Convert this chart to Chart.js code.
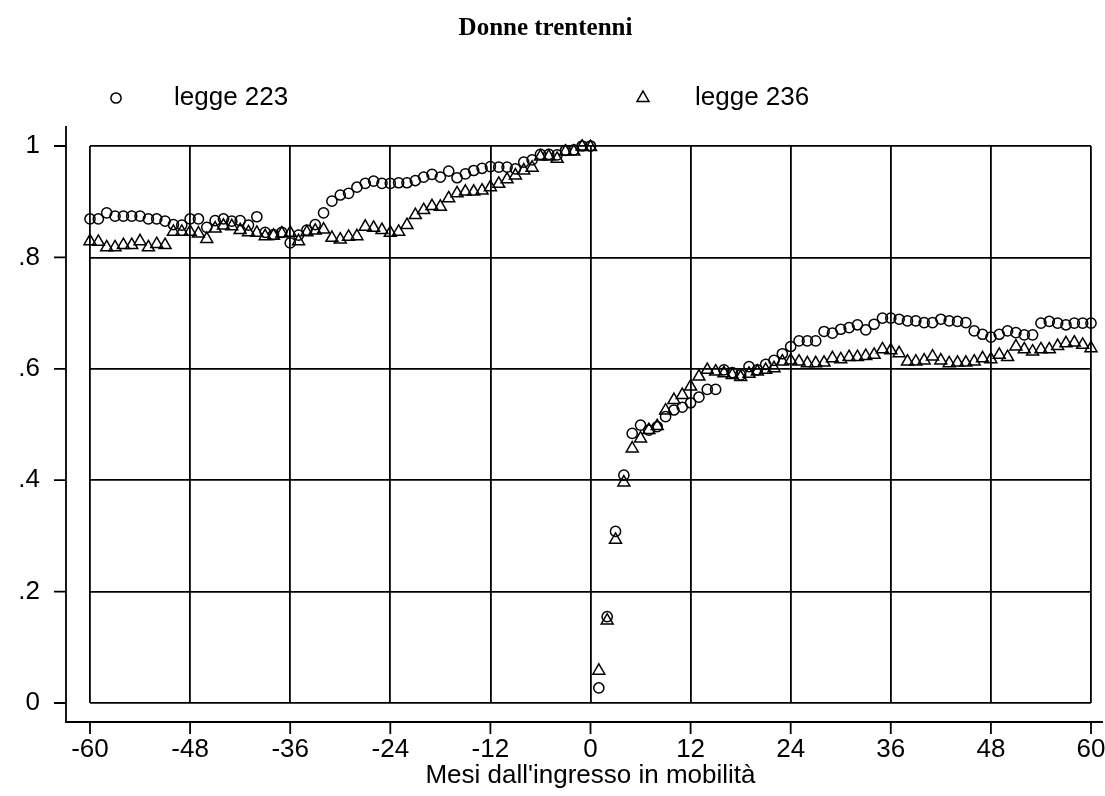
<!DOCTYPE html>
<html>
<head>
<meta charset="utf-8">
<script src="https://cdn.jsdelivr.net/npm/chart.js@4.4.1/dist/chart.umd.min.js"></script>
<style>
  html, body { margin: 0; padding: 0; background: #fff; }
  #wrap { width: 1105px; height: 796px; }
</style>
</head>
<body>
<div id="wrap"><canvas id="chart" width="1105" height="796"></canvas></div>
<script>
// months from entry into mobility (x) and the two survival-like shares (y)
const months = [
  -60,-59,-58,-57,-56,-55,-54,-53,-52,-51,-50,-49,-48,-47,-46,-45,-44,-43,-42,-41,
  -40,-39,-38,-37,-36,-35,-34,-33,-32,-31,-30,-29,-28,-27,-26,-25,-24,-23,-22,-21,
  -20,-19,-18,-17,-16,-15,-14,-13,-12,-11,-10,-9,-8,-7,-6,-5,-4,-3,-2,-1,0,
  1,2,3,4,5,6,7,8,9,10,11,12,13,14,15,16,17,18,19,20,
  21,22,23,24,25,26,27,28,29,30,31,32,33,34,35,36,37,38,39,40,
  41,42,43,44,45,46,47,48,49,50,51,52,53,54,55,56,57,58,59,60
];

const legge223 = [
  .869,.869,.880,.874,.874,.874,.874,.869,.869,.865,
  .859,.858,.869,.869,.854,.866,.869,.865,.866,.858,
  .873,.845,.841,.845,.826,.840,.849,.859,.880,.901,
  .912,.915,.926,.933,.937,.933,.933,.934,.934,.938,
  .944,.949,.944,.955,.943,.950,.956,.960,.963,.962,
  .962,.959,.971,.975,.985,.985,.984,.992,.993,1.0,1.0,
  .027,.155,.308,.409,.484,.499,.490,.496,.514,.526,
  .531,.539,.549,.563,.563,.598,.593,.589,.604,.598,
  .608,.615,.627,.640,.650,.650,.650,.667,.664,.671,
  .674,.679,.670,.680,.691,.691,.689,.686,.686,.683,
  .683,.689,.686,.685,.683,.668,.662,.657,.662,.668,
  .665,.661,.661,.682,.685,.682,.679,.682,.682,.682
];

const legge236 = [
  .829,.828,.818,.818,.822,.822,.829,.818,.824,.822,
  .846,.846,.846,.843,.833,.852,.857,.856,.849,.845,
  .844,.838,.839,.843,.844,.829,.845,.848,.850,.835,
  .832,.837,.838,.855,.853,.849,.844,.846,.858,.876,
  .885,.892,.891,.906,.915,.918,.918,.920,.926,.932,
  .940,.947,.956,.961,.981,.981,.977,.990,.990,.999,.998,
  .058,.148,.293,.396,.457,.475,.490,.497,.525,.544,
  .553,.568,.586,.598,.595,.592,.589,.585,.591,.595,
  .598,.601,.613,.615,.613,.610,.610,.611,.619,.617,
  .621,.621,.623,.625,.635,.633,.628,.613,.613,.615,
  .622,.615,.610,.611,.611,.613,.619,.617,.625,.621,
  .640,.635,.631,.635,.635,.641,.646,.647,.643,.637
];

const seriesNames = ['legge 223', 'legge 236'];
const xTicks = [-60, -48, -36, -24, -12, 0, 12, 24, 36, 48, 60];
const yTicks = [0, 0.2, 0.4, 0.6, 0.8, 1];
const yTickLabels = ['0', '.2', '.4', '.6', '.8', '1'];

const SANS = '"Liberation Sans", Arial, sans-serif';
const TEXT_SIZE = 26;
const CIRCLE_R = 5.1;
const TRIANGLE_R = 6.9;

function toPoints(values) {
  return values.map((v, i) => ({ x: months[i], y: v }));
}

function drawMarker(ctx, style, x, y) {
  ctx.beginPath();
  if (style === 'circle') {
    ctx.arc(x, y, CIRCLE_R, 0, Math.PI * 2);
  } else {
    const r = TRIANGLE_R, s = Math.sin(2 * Math.PI / 3);
    ctx.moveTo(x, y - r);
    ctx.lineTo(x + r * s, y + r / 2);
    ctx.lineTo(x - r * s, y + r / 2);
    ctx.closePath();
  }
  ctx.stroke();
}

// outer axis lines sit a little away from the plot box, ticks point outward;
// the key is drawn above the plot
const axesAndKey = {
  id: 'axesAndKey',
  afterDraw(chart) {
    const { ctx, chartArea: a, scales: { x, y } } = chart;
    const axX = a.left - 24;
    const axY = a.bottom + 19;
    ctx.save();
    ctx.strokeStyle = '#000';
    ctx.lineWidth = 1.8;
    ctx.beginPath();
    ctx.moveTo(axX, a.top - 20);
    ctx.lineTo(axX, axY);
    ctx.lineTo(chart.width - 2, axY);
    yTicks.forEach(v => {
      const py = y.getPixelForValue(v);
      ctx.moveTo(axX - 12, py);
      ctx.lineTo(axX, py);
    });
    xTicks.forEach(v => {
      const px = x.getPixelForValue(v);
      ctx.moveTo(px, axY);
      ctx.lineTo(px, axY + 12);
    });
    ctx.stroke();

    const keyY = 98;
    const keyPos = [{ m: 116, t: 174 }, { m: 643, t: 695 }];
    ctx.lineWidth = 1.5;
    ctx.fillStyle = '#000';
    ctx.font = TEXT_SIZE + 'px ' + SANS;
    ctx.textBaseline = 'middle';
    chart.data.datasets.forEach((ds, i) => {
      drawMarker(ctx, ds.pointStyle, keyPos[i].m, keyY);
      ctx.fillText(ds.label, keyPos[i].t, keyY);
    });
    ctx.restore();
  }
};

Chart.defaults.font.family = SANS;
Chart.defaults.font.size = TEXT_SIZE;
Chart.defaults.color = '#000';

new Chart(document.getElementById('chart'), {
  type: 'scatter',
  data: {
    datasets: [
      {
        label: seriesNames[0],
        data: toPoints(legge223),
        pointStyle: 'circle',
        pointRadius: CIRCLE_R,
        pointHoverRadius: CIRCLE_R,
        borderWidth: 1.5,
        borderColor: '#000',
        backgroundColor: 'rgba(0,0,0,0)',
        clip: false
      },
      {
        label: seriesNames[1],
        data: toPoints(legge236),
        pointStyle: 'triangle',
        pointRadius: TRIANGLE_R,
        pointHoverRadius: TRIANGLE_R,
        borderWidth: 1.5,
        borderColor: '#000',
        backgroundColor: 'rgba(0,0,0,0)',
        clip: false
      }
    ]
  },
  options: {
    responsive: false,
    animation: false,
    devicePixelRatio: 1,
    layout: { padding: { top: 0, left: 0, right: 14, bottom: 0 } },
    scales: {
      x: {
        type: 'linear',
        min: -60,
        max: 60,
        afterBuildTicks: s => { s.ticks = xTicks.map(v => ({ value: v })); },
        afterFit: s => { s.height = 93; s.paddingLeft = 0; s.paddingRight = 0; },
        ticks: { padding: 31, maxRotation: 0 },
        grid: { color: '#000', lineWidth: 1.8, drawTicks: false },
        border: { display: false },
        title: {
          display: true,
          text: "Mesi dall'ingresso in mobilità",
          padding: { top: 0, bottom: 5 }
        }
      },
      y: {
        min: 0,
        max: 1,
        afterBuildTicks: s => { s.ticks = yTicks.map(v => ({ value: v })); },
        afterFit: s => { s.width = 90; s.paddingTop = 0; s.paddingBottom = 0; },
        ticks: {
          padding: 50,
          crossAlign: 'near',
          callback: (v, i) => yTickLabels[i]
        },
        grid: { color: '#000', lineWidth: 1.8, drawTicks: false },
        border: { display: false }
      }
    },
    plugins: {
      legend: { display: false },
      tooltip: { enabled: false },
      title: {
        display: true,
        text: 'Donne trentenni',
        color: '#000',
        font: { family: '"Liberation Serif", "Times New Roman", serif', size: 25, weight: 'bold' },
        padding: { top: 14, bottom: 102 }
      }
    }
  },
  plugins: [axesAndKey]
});
</script>
</body>
</html>
